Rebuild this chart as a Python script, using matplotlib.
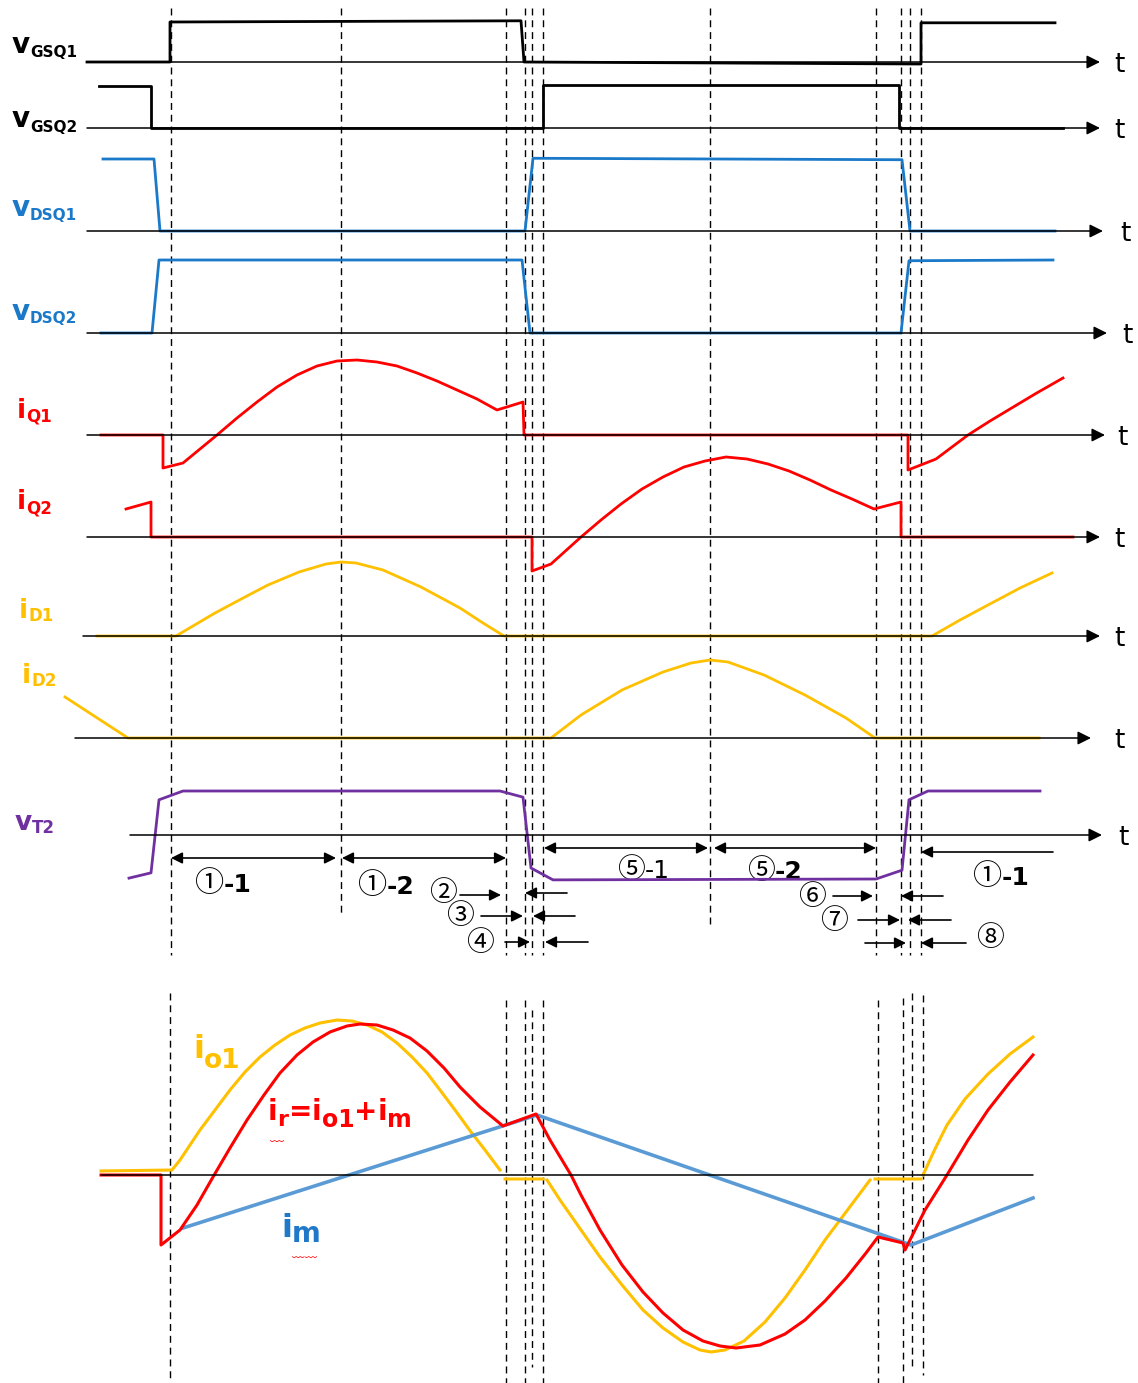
import matplotlib.pyplot as plt

W, H = 1138, 1383

# switching instants (dashed markers), same time scale as every trace
t_marks = [171, 341, 506, 525, 532, 543, 710, 876, 901, 910, 921]
t_marks_low = [170, 506, 525, 532, 543, 878, 903, 912, 923]

# gate-source voltages (1 = on)
t_vgs1 = [87, 170, 170, 521, 524, 921, 921, 1055]
vgs1 = [0, 0, 1.0, 1.03, 0, -0.05, 0.98, 0.98]
t_vgs2 = [99, 151, 151, 543, 543, 899, 899, 1063]
vgs2 = [1.0, 1.0, 0, 0, 1.02, 1.02, 0, 0]

# drain-source voltages (1 = Vin)
t_vds1 = [103, 154, 160, 525, 533, 902, 910, 1055]
vds1 = [1.0, 1.0, 0, 0, 1.01, 0.99, 0, 0]
t_vds2 = [101, 152, 159, 522, 530, 901, 909, 1053]
vds2 = [0, 0, 1.0, 1.0, 0, 0, 0.99, 1.0]

# switch currents (a.u.)
t_iq1 = [101, 163, 163, 183, 217, 237, 257, 277, 297, 317, 337, 357, 377, 397, 417,
         437, 457, 477, 497, 523, 524, 908, 908, 936, 968, 990, 1010, 1035, 1063]
iq1 = [0, 0, -0.33, -0.28, 0, 0.17, 0.33, 0.48, 0.60, 0.69, 0.74, 0.75, 0.73, 0.69, 0.62,
       0.54, 0.45, 0.36, 0.25, 0.33, 0, 0, -0.35, -0.24, 0, 0.14, 0.26, 0.41, 0.57]
t_iq2 = [126, 151, 151, 532, 532, 551, 581, 601, 621, 642, 663, 684, 705, 726, 747,
         768, 789, 810, 831, 852, 874, 901, 901, 1073]
iq2 = [0.28, 0.35, 0, 0, -0.34, -0.27, 0, 0.17, 0.33, 0.48, 0.60, 0.70, 0.76, 0.80, 0.78,
       0.73, 0.66, 0.57, 0.47, 0.38, 0.28, 0.35, 0, 0]

# rectifier diode currents (a.u.)
t_id1 = [97, 176, 215, 245, 268, 299, 326, 341, 356, 383, 421, 460, 483, 504,
         932, 960, 988, 1020, 1052]
id1 = [0, 0, 0.23, 0.39, 0.51, 0.64, 0.72, 0.74, 0.73, 0.66, 0.49, 0.28, 0.13, 0,
       0, 0.16, 0.31, 0.48, 0.63]
t_id2 = [65, 128, 551, 581, 622, 663, 691, 710, 728, 764, 805, 846, 875, 1039]
id2 = [0.41, 0, 0, 0.23, 0.48, 0.66, 0.75, 0.78, 0.76, 0.63, 0.43, 0.20, 0, 0]

# transformer secondary voltage
t_vt2 = [129, 151, 159, 183, 500, 523, 531, 553, 876, 902, 909, 928, 1040]
vt2 = [-0.98, -0.86, 0.80, 1.0, 1.0, 0.86, -0.75, -1.02, -1.0, -0.80, 0.80, 1.0, 1.0]

# resonant tank currents (a.u.), nan = break in the trace
nan = float('nan')
t_io1 = [101, 172, 180, 190, 200, 215, 230, 245, 260, 275, 290, 305, 320, 337, 352,
         367, 382, 397, 412, 427, 440, 455, 471, 485, 500,
         nan, 505, 543, nan,
         547, 560, 581, 600, 622, 643, 663, 683, 700, 711, 725, 744, 765, 785, 805,
         825, 846, 870,
         nan, 875, 921, nan,
         923, 935, 947, 965, 988, 1010, 1033]
io1 = [0.04, 0.05, 0.15, 0.30, 0.45, 0.65, 0.85, 1.03, 1.18, 1.30, 1.40, 1.47, 1.52, 1.55, 1.54,
       1.50, 1.43, 1.32, 1.18, 1.02, 0.85, 0.65, 0.43, 0.25, 0.05,
       nan, -0.04, -0.04, nan,
       -0.05, -0.25, -0.55, -0.82, -1.10, -1.35, -1.53, -1.67, -1.75, -1.77, -1.75, -1.66,
       -1.47, -1.23, -0.95, -0.65, -0.37, -0.05,
       nan, -0.04, -0.04, nan,
       0, 0.26, 0.50, 0.76, 1.01, 1.21, 1.38]
t_ir = [101, 161, 161, 180, 197, 213, 230, 247, 264, 280, 297, 313, 330, 347, 360,
        377, 393, 410, 427, 444, 460, 480, 503, 536,
        550, 562, 571, 581, 600, 622, 643, 663, 683, 703, 720, 736, 760, 785, 805,
        825, 846, 866, 878, 903, 905, 925, 947, 968, 988, 1010, 1033]
ir = [0, 0, -0.70, -0.55, -0.30, -0.02, 0.27, 0.55, 0.80, 1.02, 1.20, 1.33, 1.43, 1.49, 1.51,
      1.50, 1.45, 1.37, 1.24, 1.07, 0.88, 0.68, 0.49, 0.61,
      0.35, 0.15, 0, -0.20, -0.55, -0.90, -1.17, -1.38, -1.55, -1.66, -1.71, -1.73, -1.70,
      -1.59, -1.45, -1.26, -1.03, -0.78, -0.62, -0.68, -0.75, -0.35, 0, 0.35, 0.65, 0.93, 1.20]
t_im = [183, 537, 911, 1033]
im = [-0.53, 0.60, -0.70, -0.23]

BLUE = '#1B79C9'
RED = '#FF0000'
YEL = '#FFC000'
PURP = '#7030A0'
LBLUE = '#5B9BD5'
CJK = ['Noto Sans CJK JP', 'DejaVu Sans']

fig = plt.figure(figsize=(W / 100, H / 100), dpi=100)
ax = fig.add_axes([0, 0, 1, 1])
ax.set_xlim(0, W)
ax.set_ylim(H, 0)
ax.axis('off')
renderer = fig.canvas.get_renderer()


def row(base, unit):
    # axes whose value 0 sits on pixel row `base`, `unit` pixels per unit
    a = fig.add_axes([0, 0, 1, 1])
    a.set_xlim(0, W)
    a.set_ylim(-(H - base) / unit, base / unit)
    a.axis('off')
    a.set_facecolor('none')
    return a


def axis_arrow(a, x0, x1, arrow=True):
    a.annotate('', xy=(x1, 0), xytext=(x0, 0),
               arrowprops=dict(arrowstyle='-|>' if arrow else '-', color='black', lw=1.1,
                               mutation_scale=20, shrinkA=0, shrinkB=0))


def rich(x, y, pieces, color):
    # pieces: (text, size, dy, weight, family)
    for s, size, dy, weight, fam in pieces:
        t = ax.text(x, y + dy, s, fontsize=size, color=color, fontweight=weight,
                    family=fam, va='baseline', ha='left')
        x += t.get_window_extent(renderer=renderer).width


def arr(x0, x1, y, style='-|>'):
    ax.annotate('', xy=(x1, y), xytext=(x0, y),
                arrowprops=dict(arrowstyle=style, color='black', lw=1.2,
                                mutation_scale=17, shrinkA=0, shrinkB=0))


# dashed event markers
dash = dict(colors='black', linewidth=1.0, linestyles=(0, (5, 3.5)))
ax.vlines(t_marks, 8, [955, 915, 955, 955, 955, 955, 928, 955, 955, 955, 955], **dash)
ax.vlines(t_marks_low, [993, 1000, 1000, 1010, 1000, 1000, 998, 993, 995],
          [1378, 1383, 1383, 1367, 1383, 1383, 1383, 1370, 1375], **dash)

# upper waveforms: (time, values, base px, px per unit, colour, axis start, axis tip, t x)
traces = [
    (t_vgs1, vgs1, 62, 40, 'black', 87, 1100, 1114),
    (t_vgs2, vgs2, 128, 42, 'black', 87, 1100, 1114),
    (t_vds1, vds1, 231, 72, BLUE, 87, 1103, 1120),
    (t_vds2, vds2, 333, 73, BLUE, 87, 1107, 1122),
    (t_iq1, iq1, 435, 100, RED, 87, 1105, 1117),
    (t_iq2, iq2, 537, 100, RED, 87, 1100, 1114),
    (t_id1, id1, 636, 100, YEL, 83, 1100, 1114),
    (t_id2, id2, 738, 100, YEL, 75, 1091, 1114),
    (t_vt2, vt2, 835, 44, PURP, 130, 1102, 1118),
]
for t, v, base, unit, col, x0, x1, tx in traces:
    a = row(base, unit)
    axis_arrow(a, x0, x1)
    a.plot(t, v, color=col, lw=2.0, solid_joinstyle='round')
    ax.text(tx, base + 10, 't', fontsize=19, va='baseline', ha='left')

# lower panel
lo = row(1175, 100)
axis_arrow(lo, 101, 1033, arrow=False)
lo.plot(t_io1, io1, color=YEL, lw=2.2, solid_joinstyle='round')
lo.plot(t_im, im, color=LBLUE, lw=2.6)
lo.plot(t_ir, ir, color=RED, lw=2.2, solid_joinstyle='round')

# trace labels
B = 'bold'
D = 'DejaVu Sans'
rich(12, 53, [('v', 20, 0, B, D), ('GSQ1', 11, 4, B, D)], 'black')
rich(12, 127, [('v', 20, 0, B, D), ('GSQ2', 11, 5, B, D)], 'black')
rich(12, 216, [('v', 20, 0, B, D), ('DSQ1', 11, 4, B, D)], BLUE)
rich(12, 320, [('v', 20, 0, B, D), ('DSQ2', 11, 3, B, D)], BLUE)
rich(17, 418, [('i', 19, 0, B, D), ('Q1', 12, 4, B, D)], RED)
rich(17, 509, [('i', 19, 0, B, D), ('Q2', 12, 4, B, D)], RED)
rich(19, 618, [('i', 19, 0, B, D), ('D1', 12, 3, B, D)], YEL)
rich(22, 683, [('i', 19, 0, B, D), ('D2', 12, 3, B, D)], YEL)
rich(15, 830, [('v', 19, 0, B, D), ('T2', 12, 3, B, D)], PURP)

rich(193, 1058, [('i', 23, 0, B, D), ('o1', 19, 10, B, D)], YEL)
rich(268, 1120, [('i', 20, 0, B, D), ('r', 16, 6, B, D), ('=', 20, 0, B, D),
                 ('i', 20, 0, B, D), ('o1', 17, 7, B, D), ('+', 20, 0, B, D),
                 ('i', 20, 0, B, D), ('m', 17, 7, B, D)], RED)
rich(281, 1237, [('i', 23, 0, B, D), ('m', 20, 5, B, D)], '#1F78C8')
# spell-check squiggles under the formula labels
ax.text(270, 1141, '﹏', fontsize=10, color=RED, family=CJK)
ax.text(292, 1257, '﹏﹏', fontsize=9, color=RED, family=CJK)

# interval annotations
arr(171, 336, 858, '<|-|>')
arr(342, 506, 858, '<|-|>')
arr(544, 708, 848, '<|-|>')
arr(714, 876, 848, '<|-|>')
arr(1053, 921, 852)
for x0, x1, y in [(460, 501, 895), (567, 525, 893), (481, 523, 916), (575, 533, 916),
                  (505, 530, 942), (588, 545, 942), (833, 873, 896), (943, 901, 896),
                  (858, 900, 920), (951, 908, 920), (865, 906, 943), (966, 921, 943)]:
    arr(x0, x1, y)

rich(195, 892, [('①', 21, 0, 'normal', CJK), ('-1', 18, 0, B, D)], 'black')
rich(358, 894, [('①', 21, 0, 'normal', CJK), ('-2', 18, 0, B, D)], 'black')
rich(617, 878, [('⑤', 20, 0, 'normal', CJK), ('-1', 18, 0, 'normal', D)], 'black')
rich(747, 879, [('⑤', 20, 0, 'normal', CJK), ('-2', 18, 0, B, D)], 'black')
rich(973, 885, [('①', 21, 0, 'normal', CJK), ('-1', 18, 0, B, D)], 'black')
for s, x, y in [('②', 443, 893), ('③', 460, 916), ('④', 480, 943),
                ('⑥', 812, 897), ('⑦', 834, 921), ('⑧', 990, 938)]:
    ax.text(x, y, s, fontsize=20, family=CJK, va='center', ha='center')

fig.savefig('out.png', dpi=100)
